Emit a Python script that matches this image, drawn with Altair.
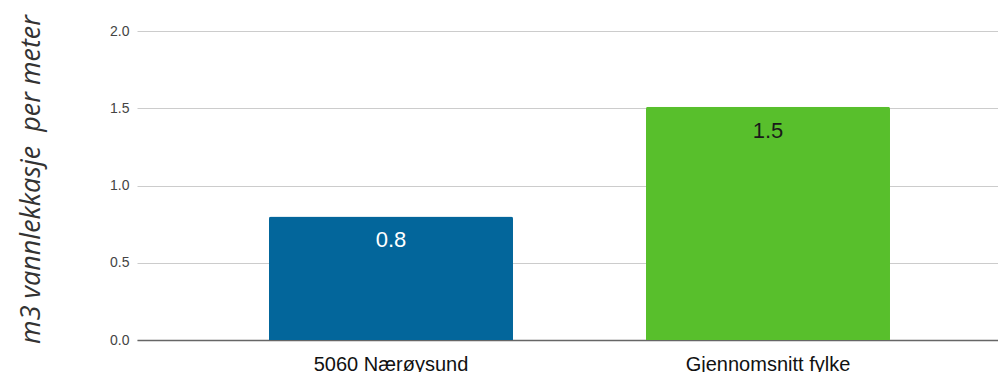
import altair as alt
import pandas as pd

categories = ["5060 Nærøysund", "Gjennomsnitt fylke"]
values = [0.8, 1.51]
bar_colors = ["#03669b", "#58bf2c"]
text_colors = ["#ffffff", "#1a1a1a"]

df = pd.DataFrame({"cat": categories, "val": values, "bc": bar_colors, "tc": text_colors})

x = alt.X("cat:N", sort=categories, title=None,
          scale=alt.Scale(paddingInner=0.3528, paddingOuter=0.3183, align=0.55),
          axis=alt.Axis(labelAngle=0, labelFontSize=20, labelColor="#111111", labelFont="Liberation Sans",
                        ticks=False, domainColor="#666666", domainWidth=1.5, labelPadding=14, grid=False))
y = alt.Y("val:Q", title="m3 vannlekkasje \u00a0per meter",
          scale=alt.Scale(domain=[0, 2]),
          axis=alt.Axis(values=[0, 0.5, 1.0, 1.5, 2.0], format=".1f", ticks=False, domain=False,
                        labelFontSize=14, labelColor="#444444", labelFont="Liberation Sans", labelPadding=8,
                        gridColor="#cccccc", gridWidth=1,
                        titleFont="Open Sans", titleFontStyle="italic", titleFontWeight=400,
                        titleFontSize=27, titleColor="#333333", titlePadding=0))

bars = alt.Chart(df).mark_bar(cornerRadiusTopLeft=2, cornerRadiusTopRight=2).encode(
    x=x, y=y, color=alt.Color("bc:N", scale=None))

labels = alt.Chart(df).mark_text(baseline="middle", dy=24, fontSize=22, font="Liberation Sans").encode(
    x=alt.X("cat:N", sort=categories), y="val:Q",
    text=alt.Text("val:Q", format=".1f"),
    color=alt.Color("tc:N", scale=None))

chart = (bars + labels).properties(
    width=861, height=309,
    autosize=alt.AutoSizeParams(type="none"),
    padding={"left": 129, "top": 23, "right": 0, "bottom": 40},
).configure_view(stroke=None).configure_axisY(titleX=-106, titleY=148, titleAngle=270, titleAlign="center", titleBaseline="middle")

chart.save("out.html", embed_options={"renderer": "svg", "actions": False})
